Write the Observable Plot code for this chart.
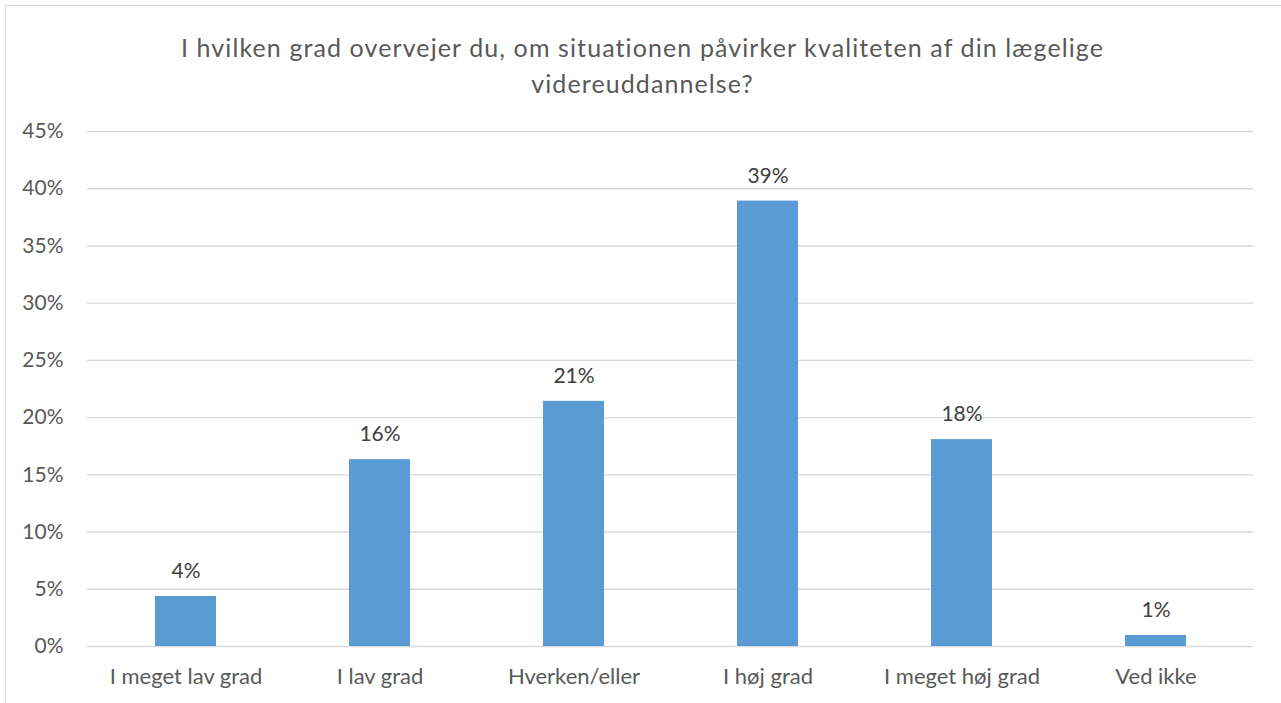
<!DOCTYPE html>
<html>
<head>
<meta charset="utf-8">
<script src="https://cdn.jsdelivr.net/npm/d3@7"></script>
<script src="https://cdn.jsdelivr.net/npm/@observablehq/plot@0.6"></script>
<style>
  html, body { margin: 0; padding: 0; background: #fff; overflow: hidden; width: 1281px; height: 703px; }
  #frame { position: absolute; left: 5px; top: 5px; width: 1300px; height: 720px; border: 1.5px solid #d9d9d9; box-sizing: border-box; }
  #title { position: absolute; left: 0; top: 29px; width: 1285px; text-align: center; font-family: Lato, "Open Sans", sans-serif; font-size: 25px; letter-spacing: 1.1px; line-height: 36px; color: #595959; }
  #chart { position: absolute; left: 0; top: 100px; }
</style>
</head>
<body>
<div id="frame"></div>
<div id="title">I hvilken grad overvejer du, om situationen påvirker kvaliteten af din lægelige<br>videreuddannelse?</div>
<div id="chart"></div>
<script>
const categories = ["I meget lav grad", "I lav grad", "Hverken/eller", "I høj grad", "I meget høj grad", "Ved ikke"];
const values = [4.37, 16.33, 21.42, 38.92, 18.08, 0.96];
const yTicks = [0, 5, 10, 15, 20, 25, 30, 35, 40, 45];

const data = categories.map((c, i) => ({category: c, value: values[i]}));
const fmt = v => Math.round(v) + "%";

const plot = Plot.plot({
  width: 1281,
  height: 603,
  marginTop: 31,
  marginBottom: 57,
  marginLeft: 87,
  marginRight: 28,
  style: {fontFamily: "Lato, 'Open Sans', sans-serif", fontSize: "21px", color: "#595959", background: "transparent"},
  x: {domain: categories, paddingInner: 0.686, paddingOuter: 0.343, label: null},
  y: {domain: [0, 45], ticks: yTicks, label: null},
  marks: [
    Plot.ruleY(yTicks, {stroke: "#d9d9d9", strokeWidth: 1.4, strokeOpacity: 1}),
    Plot.barY(data, {x: "category", y: "value", fill: "#5b9bd5"}),
    Plot.text(data, {x: "category", y: "value", text: d => fmt(d.value), dy: -25, fill: "#404040", fontSize: 21}),
    Plot.axisY({ticks: yTicks, tickSize: 0, tickPadding: 24, tickFormat: d => d + "%", fill: "#595959", fontSize: 21}),
    Plot.axisX({tickSize: 0, tickPadding: 22, fill: "#595959", fontSize: 22})
  ]
});
document.getElementById("chart").appendChild(plot);
</script>
</body>
</html>
